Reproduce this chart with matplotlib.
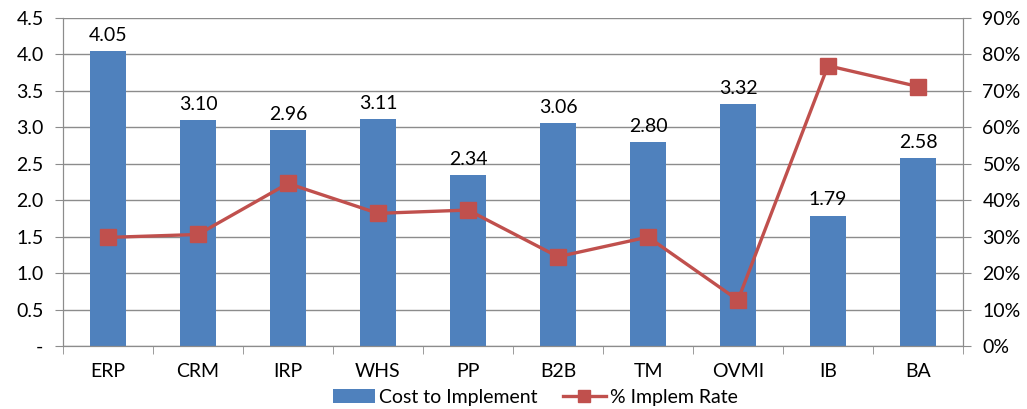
import numpy as np
import matplotlib.pyplot as plt
from matplotlib.ticker import FixedLocator, FuncFormatter
from matplotlib.lines import Line2D
from matplotlib.patches import Patch

# -------- DATA --------
categories = ["ERP", "CRM", "IRP", "WHS", "PP", "B2B", "TM", "OVMI", "IB", "BA"]
cost = [4.05, 3.10, 2.96, 3.11, 2.34, 3.06, 2.80, 3.32, 1.79, 2.58]
implem_rate = [29.8, 30.6, 44.6, 36.4, 37.3, 24.5, 29.9, 12.6, 76.9, 71.2]

BAR_COLOR = "#4F81BD"
LINE_COLOR = "#C0504D"
GRID_COLOR = "#8C8C8C"

plt.rcParams["font.family"] = ["Lato", "DejaVu Sans"]
plt.rcParams["font.size"] = 14

fig = plt.figure(figsize=(10.27, 4.09), dpi=100)
ax = fig.add_axes([63 / 1027, 63 / 409, 900 / 1027, 328 / 409])
ax2 = ax.twinx()

x = np.arange(len(categories))
ax.bar(x, cost, width=0.39, color=BAR_COLOR, zorder=2)
for xi, v in zip(x, cost):
    ax.text(xi, v + 0.1, f"{v:.2f}", ha="center", va="bottom", fontsize=14)

ax2.plot(x, implem_rate, color=LINE_COLOR, lw=2.4, marker="s", ms=11,
         markeredgecolor=LINE_COLOR, zorder=3)

# left axis
ax.set_xlim(-0.5, len(categories) - 0.5)
ax.set_ylim(0, 4.5)
ax.set_yticks(np.arange(0, 4.51, 0.5))
ax.yaxis.set_major_formatter(FuncFormatter(lambda v, p: "-" if v == 0 else f"{v:.1f}"))
ax.grid(axis="y", color=GRID_COLOR, lw=1, zorder=0)
ax.set_axisbelow(True)

# category labels centred, tick marks on the boundaries
ax.set_xticks(x)
ax.set_xticklabels(categories)
ax.tick_params(axis="x", length=0, pad=12)
ax.xaxis.set_minor_locator(FixedLocator(np.arange(-0.5, len(categories), 1.0)))
ax.tick_params(axis="x", which="minor", length=6, color=GRID_COLOR, direction="out")
ax.tick_params(axis="y", length=6, color=GRID_COLOR, pad=8)

# right axis
ax2.set_ylim(0, 90)
ax2.set_yticks(np.arange(0, 91, 10))
ax2.yaxis.set_major_formatter(FuncFormatter(lambda v, p: f"{v:.0f}%"))
ax2.tick_params(axis="y", length=6, color=GRID_COLOR, pad=8)

for a in (ax, ax2):
    a.spines["top"].set_visible(False)
    for s in ("left", "right", "bottom"):
        a.spines[s].set_color(GRID_COLOR)

handles = [
    Patch(facecolor=BAR_COLOR, label="Cost to Implement"),
    Line2D([0], [0], color=LINE_COLOR, lw=2.4, marker="s", ms=9, label="% Implem Rate"),
]
fig.legend(handles=handles, loc="center", bbox_to_anchor=(535 / 1027, 1 - 397 / 409),
           ncol=2, frameon=False, fontsize=14, handlelength=2.2, columnspacing=1.3,
           handletextpad=0.2)

fig.savefig("out.png", dpi=100)
